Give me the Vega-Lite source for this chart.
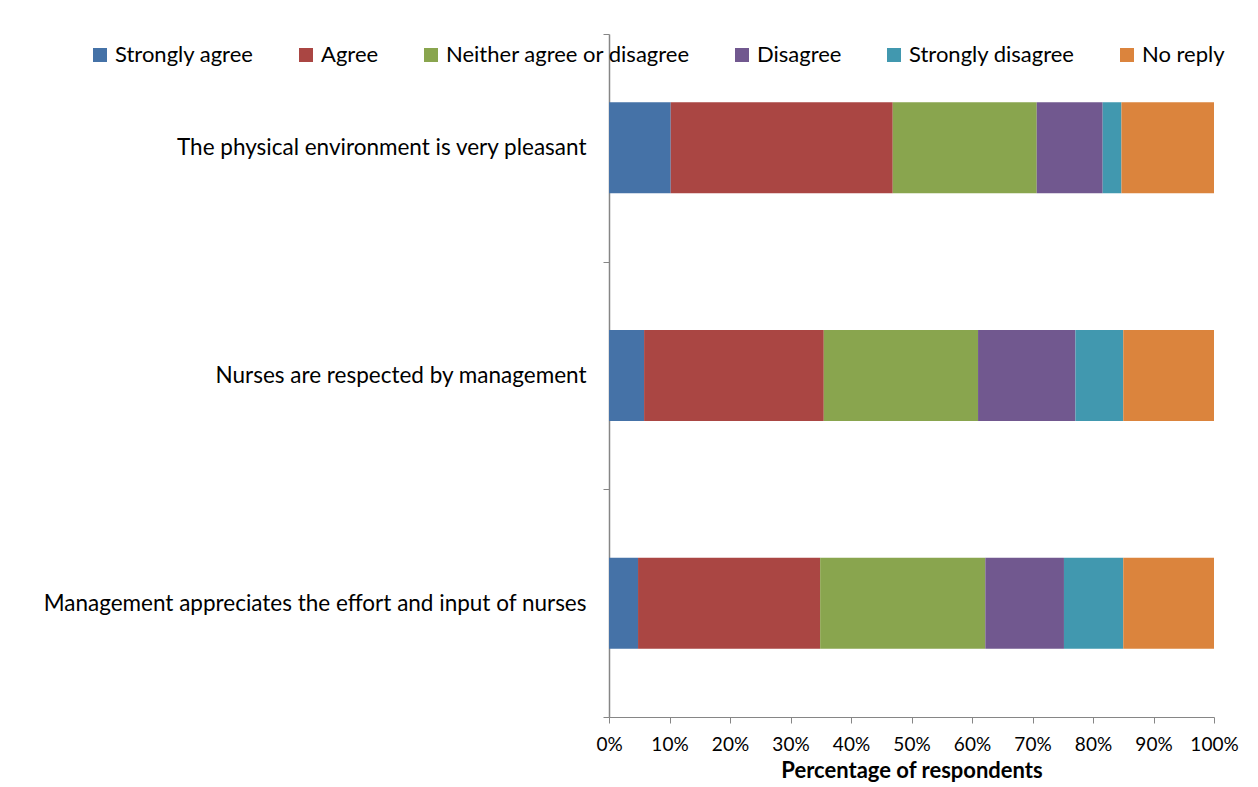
{
  "$schema": "https://vega.github.io/schema/vega-lite/v6.json",
  "width": 605,
  "height": 683,
  "autosize": "none",
  "padding": {"left": 609, "top": 34, "right": 44, "bottom": 70},
  "background": "white",
  "config": {
    "font": "Lato",
    "view": {"stroke": null},
    "axis": {"domainColor": "#868686", "tickColor": "#868686", "labelColor": "black", "titleColor": "black"}
  },
  "data": {
    "values": [
      {"statement": "The physical environment is very pleasant", "response": "Strongly agree", "order": 1, "pct": 10.2},
      {"statement": "The physical environment is very pleasant", "response": "Agree", "order": 2, "pct": 36.7},
      {"statement": "The physical environment is very pleasant", "response": "Neither agree or disagree", "order": 3, "pct": 23.8},
      {"statement": "The physical environment is very pleasant", "response": "Disagree", "order": 4, "pct": 10.9},
      {"statement": "The physical environment is very pleasant", "response": "Strongly disagree", "order": 5, "pct": 3.1},
      {"statement": "The physical environment is very pleasant", "response": "No reply", "order": 6, "pct": 15.3},
      {"statement": "Nurses are respected by management", "response": "Strongly agree", "order": 1, "pct": 5.8},
      {"statement": "Nurses are respected by management", "response": "Agree", "order": 2, "pct": 29.7},
      {"statement": "Nurses are respected by management", "response": "Neither agree or disagree", "order": 3, "pct": 25.5},
      {"statement": "Nurses are respected by management", "response": "Disagree", "order": 4, "pct": 16.1},
      {"statement": "Nurses are respected by management", "response": "Strongly disagree", "order": 5, "pct": 7.9},
      {"statement": "Nurses are respected by management", "response": "No reply", "order": 6, "pct": 15.0},
      {"statement": "Management appreciates the effort and input of nurses", "response": "Strongly agree", "order": 1, "pct": 4.8},
      {"statement": "Management appreciates the effort and input of nurses", "response": "Agree", "order": 2, "pct": 30.1},
      {"statement": "Management appreciates the effort and input of nurses", "response": "Neither agree or disagree", "order": 3, "pct": 27.3},
      {"statement": "Management appreciates the effort and input of nurses", "response": "Disagree", "order": 4, "pct": 13.0},
      {"statement": "Management appreciates the effort and input of nurses", "response": "Strongly disagree", "order": 5, "pct": 9.8},
      {"statement": "Management appreciates the effort and input of nurses", "response": "No reply", "order": 6, "pct": 15.0}
    ]
  },
  "mark": {"type": "bar", "height": {"band": 0.4}},
  "encoding": {
    "y": {
      "field": "statement",
      "type": "nominal",
      "sort": ["The physical environment is very pleasant", "Nurses are respected by management", "Management appreciates the effort and input of nurses"],
      "scale": {"paddingInner": 0, "paddingOuter": 0},
      "axis": {"title": null, "labelFontSize": 22.5, "labelPadding": 17, "tickSize": 6, "tickBand": "extent", "labelLimit": 700, "domainWidth": 1.5}
    },
    "x": {
      "field": "pct",
      "type": "quantitative",
      "stack": "normalize",
      "scale": {"domain": [0, 1]},
      "axis": {"title": "Percentage of respondents", "format": ".0%", "values": [0, 0.1, 0.2, 0.3, 0.4, 0.5, 0.6, 0.7, 0.8, 0.9, 1], "labelFontSize": 19, "titleFontSize": 22, "titleFontWeight": "bold", "grid": false, "tickSize": 6, "labelPadding": 12, "titlePadding": 6, "labelFlush": false, "labelOverlap": false}
    },
    "order": {"field": "order", "type": "quantitative"},
    "color": {
      "field": "response",
      "type": "nominal",
      "scale": {
        "domain": ["Strongly agree", "Agree", "Neither agree or disagree", "Disagree", "Strongly disagree", "No reply"],
        "range": ["#4572A7", "#AA4643", "#89A54E", "#71588F", "#4198AF", "#DB843D"]
      },
      "legend": {
        "title": null,
        "orient": "none",
        "legendX": -520,
        "legendY": 10,
        "direction": "horizontal",
        "symbolType": "square",
        "symbolSize": 196,
        "symbolStrokeWidth": 0,
        "labelFontSize": 22,
        "labelColor": "black",
        "labelOffset": 4,
        "columnPadding": 41,
        "labelLimit": 400
      }
    }
  }
}
